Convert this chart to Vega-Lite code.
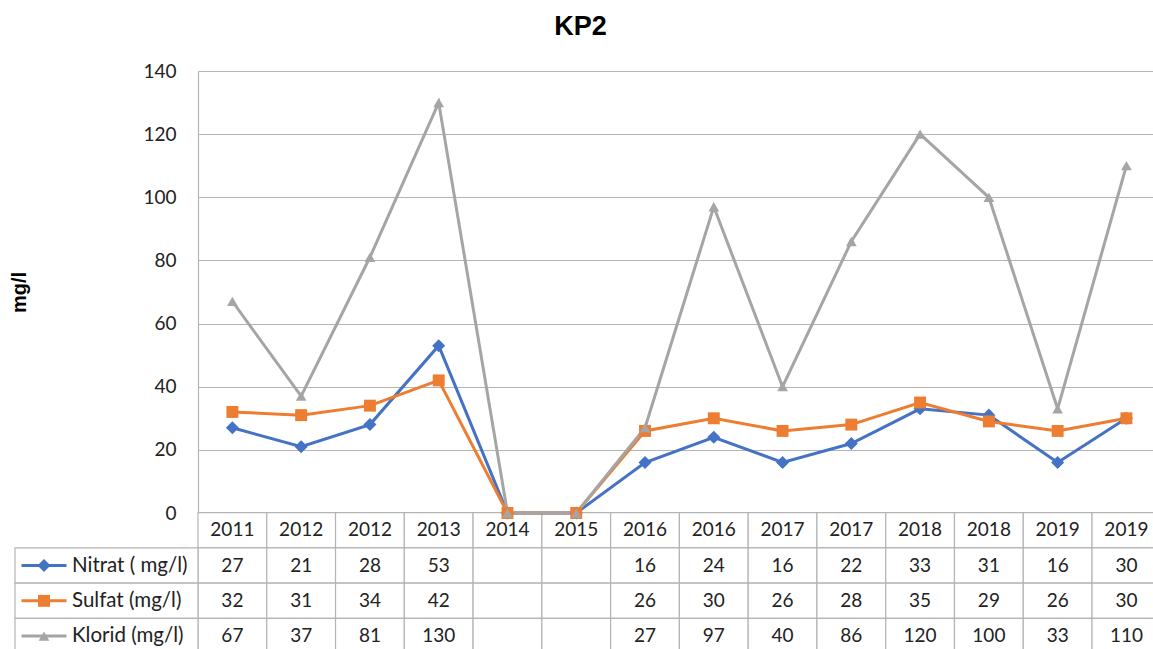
{
  "$schema": "https://vega.github.io/schema/vega-lite/v6.json",
  "width": 955,
  "height": 442,
  "autosize": {"type": "none"},
  "padding": {"left": 198, "top": 71, "right": 0, "bottom": 136},
  "background": "white",
  "config": {"view": {"stroke": null}, "font": "Lato"},
  "title": {"text": "KP2", "font": "Liberation Sans", "fontSize": 27, "fontWeight": "bold", "color": "#000000", "anchor": "middle", "baseline": "alphabetic", "offset": 0, "dx": -95},
  "datasets": {
    "obs": [
      {"i": 0, "series": "Nitrat", "value": 27, "cell": "27"},
      {"i": 1, "series": "Nitrat", "value": 21, "cell": "21"},
      {"i": 2, "series": "Nitrat", "value": 28, "cell": "28"},
      {"i": 3, "series": "Nitrat", "value": 53, "cell": "53"},
      {"i": 4, "series": "Nitrat", "value": 0, "cell": ""},
      {"i": 5, "series": "Nitrat", "value": 0, "cell": ""},
      {"i": 6, "series": "Nitrat", "value": 16, "cell": "16"},
      {"i": 7, "series": "Nitrat", "value": 24, "cell": "24"},
      {"i": 8, "series": "Nitrat", "value": 16, "cell": "16"},
      {"i": 9, "series": "Nitrat", "value": 22, "cell": "22"},
      {"i": 10, "series": "Nitrat", "value": 33, "cell": "33"},
      {"i": 11, "series": "Nitrat", "value": 31, "cell": "31"},
      {"i": 12, "series": "Nitrat", "value": 16, "cell": "16"},
      {"i": 13, "series": "Nitrat", "value": 30, "cell": "30"},
      {"i": 0, "series": "Sulfat", "value": 32, "cell": "32"},
      {"i": 1, "series": "Sulfat", "value": 31, "cell": "31"},
      {"i": 2, "series": "Sulfat", "value": 34, "cell": "34"},
      {"i": 3, "series": "Sulfat", "value": 42, "cell": "42"},
      {"i": 4, "series": "Sulfat", "value": 0, "cell": ""},
      {"i": 5, "series": "Sulfat", "value": 0, "cell": ""},
      {"i": 6, "series": "Sulfat", "value": 26, "cell": "26"},
      {"i": 7, "series": "Sulfat", "value": 30, "cell": "30"},
      {"i": 8, "series": "Sulfat", "value": 26, "cell": "26"},
      {"i": 9, "series": "Sulfat", "value": 28, "cell": "28"},
      {"i": 10, "series": "Sulfat", "value": 35, "cell": "35"},
      {"i": 11, "series": "Sulfat", "value": 29, "cell": "29"},
      {"i": 12, "series": "Sulfat", "value": 26, "cell": "26"},
      {"i": 13, "series": "Sulfat", "value": 30, "cell": "30"},
      {"i": 0, "series": "Klorid", "value": 67, "cell": "67"},
      {"i": 1, "series": "Klorid", "value": 37, "cell": "37"},
      {"i": 2, "series": "Klorid", "value": 81, "cell": "81"},
      {"i": 3, "series": "Klorid", "value": 130, "cell": "130"},
      {"i": 4, "series": "Klorid", "value": 0, "cell": ""},
      {"i": 5, "series": "Klorid", "value": 0, "cell": ""},
      {"i": 6, "series": "Klorid", "value": 27, "cell": "27"},
      {"i": 7, "series": "Klorid", "value": 97, "cell": "97"},
      {"i": 8, "series": "Klorid", "value": 40, "cell": "40"},
      {"i": 9, "series": "Klorid", "value": 86, "cell": "86"},
      {"i": 10, "series": "Klorid", "value": 120, "cell": "120"},
      {"i": 11, "series": "Klorid", "value": 100, "cell": "100"},
      {"i": 12, "series": "Klorid", "value": 33, "cell": "33"},
      {"i": 13, "series": "Klorid", "value": 110, "cell": "110"}
    ],
    "years": [
      {"i": 0, "year": "2011"}, {"i": 1, "year": "2012"}, {"i": 2, "year": "2012"},
      {"i": 3, "year": "2013"}, {"i": 4, "year": "2014"}, {"i": 5, "year": "2015"},
      {"i": 6, "year": "2016"}, {"i": 7, "year": "2016"}, {"i": 8, "year": "2017"},
      {"i": 9, "year": "2017"}, {"i": 10, "year": "2018"}, {"i": 11, "year": "2018"},
      {"i": 12, "year": "2019"}, {"i": 13, "year": "2019"}
    ],
    "legend": [
      {"series": "Nitrat", "label": "Nitrat ( mg/l)"},
      {"series": "Sulfat", "label": "Sulfat (mg/l)"},
      {"series": "Klorid", "label": "Klorid (mg/l)"}
    ]
  },
  "layer": [
    {
      "layer": [
        {
          "data": {"name": "years"},
          "mark": {"type": "rect", "fill": "white", "stroke": "#b4b4b4", "strokeWidth": 1.2},
          "encoding": {
            "x": {"field": "i", "type": "ordinal", "scale": {"type": "band", "domain": [0,1,2,3,4,5,6,7,8,9,10,11,12,13], "range": [0, 962.8], "paddingInner": 0, "paddingOuter": 0}, "axis": null},
            "y": {"datum": "year", "type": "nominal", "scale": {"type": "band", "domain": ["year", "Nitrat", "Sulfat", "Klorid"], "range": [441.7, 582.7], "paddingInner": 0, "paddingOuter": 0}, "axis": null}
          }
        },
        {
          "data": {"name": "years"},
          "mark": {"type": "text", "font": "Lato", "fontSize": 19, "color": "#222222", "baseline": "middle", "align": "center"},
          "encoding": {
            "x": {"field": "i", "type": "ordinal", "bandPosition": 0.5, "scale": {"type": "band", "domain": [0,1,2,3,4,5,6,7,8,9,10,11,12,13], "range": [0, 962.8], "paddingInner": 0, "paddingOuter": 0}, "axis": null},
            "y": {"datum": "year", "type": "nominal", "bandPosition": 0.5, "scale": {"type": "band", "domain": ["year", "Nitrat", "Sulfat", "Klorid"], "range": [441.7, 582.7], "paddingInner": 0, "paddingOuter": 0}, "axis": null},
            "text": {"field": "year"}
          }
        },
        {
          "data": {"name": "obs"},
          "mark": {"type": "rect", "fill": "white", "stroke": "#b4b4b4", "strokeWidth": 1.2},
          "encoding": {
            "x": {"field": "i", "type": "ordinal", "scale": {"type": "band", "domain": [0,1,2,3,4,5,6,7,8,9,10,11,12,13], "range": [0, 962.8], "paddingInner": 0, "paddingOuter": 0}, "axis": null},
            "y": {"field": "series", "type": "nominal", "scale": {"type": "band", "domain": ["year", "Nitrat", "Sulfat", "Klorid"], "range": [441.7, 582.7], "paddingInner": 0, "paddingOuter": 0}, "axis": null}
          }
        },
        {
          "data": {"name": "obs"},
          "mark": {"type": "text", "font": "Lato", "fontSize": 19, "color": "#222222", "baseline": "middle", "align": "center"},
          "encoding": {
            "x": {"field": "i", "type": "ordinal", "bandPosition": 0.5, "scale": {"type": "band", "domain": [0,1,2,3,4,5,6,7,8,9,10,11,12,13], "range": [0, 962.8], "paddingInner": 0, "paddingOuter": 0}, "axis": null},
            "y": {"field": "series", "type": "nominal", "bandPosition": 0.5, "scale": {"type": "band", "domain": ["year", "Nitrat", "Sulfat", "Klorid"], "range": [441.7, 582.7], "paddingInner": 0, "paddingOuter": 0}, "axis": null},
            "text": {"field": "cell"}
          }
        }
      ]
    },
    {
      "layer": [
        {
          "data": {"name": "legend"},
          "mark": {"type": "rect", "fill": "white", "stroke": "#b4b4b4", "strokeWidth": 1.2},
          "encoding": {
            "x": {"datum": "legend", "type": "nominal", "scale": {"type": "band", "domain": ["legend"], "range": [-183, 0], "paddingInner": 0, "paddingOuter": 0}, "axis": null},
            "y": {"field": "series", "type": "nominal", "scale": {"type": "band", "domain": ["year", "Nitrat", "Sulfat", "Klorid"], "range": [441.7, 582.7], "paddingInner": 0, "paddingOuter": 0}, "axis": null}
          }
        },
        {
          "data": {"name": "legend"},
          "mark": {"type": "text", "font": "Lato", "fontSize": 20.5, "color": "#222222", "baseline": "middle", "align": "left", "dx": 57},
          "encoding": {
            "x": {"datum": "legend", "type": "nominal", "bandPosition": 0, "scale": {"type": "band", "domain": ["legend"], "range": [-183, 0], "paddingInner": 0, "paddingOuter": 0}, "axis": null},
            "y": {"field": "series", "type": "nominal", "bandPosition": 0.5, "scale": {"type": "band", "domain": ["year", "Nitrat", "Sulfat", "Klorid"], "range": [441.7, 582.7], "paddingInner": 0, "paddingOuter": 0}, "axis": null},
            "text": {"field": "label"}
          }
        },
        {
          "data": {"name": "legend"},
          "mark": {"type": "point", "shape": "stroke", "size": 2025, "strokeWidth": 3, "filled": false, "opacity": 1},
          "encoding": {
            "x": {"datum": "legend", "type": "nominal", "bandPosition": 0.1585, "scale": {"type": "band", "domain": ["legend"], "range": [-183, 0], "paddingInner": 0, "paddingOuter": 0}, "axis": null},
            "y": {"field": "series", "type": "nominal", "bandPosition": 0.5, "scale": {"type": "band", "domain": ["year", "Nitrat", "Sulfat", "Klorid"], "range": [441.7, 582.7], "paddingInner": 0, "paddingOuter": 0}, "axis": null},
            "color": {"field": "series", "type": "nominal", "scale": {"domain": ["Nitrat", "Sulfat", "Klorid"], "range": ["#4472C4", "#ED7D31", "#A5A5A5"]}, "legend": null}
          }
        },
        {
          "data": {"name": "legend"},
          "mark": {"type": "point", "filled": true, "opacity": 1},
          "encoding": {
            "x": {"datum": "legend", "type": "nominal", "bandPosition": 0.1585, "scale": {"type": "band", "domain": ["legend"], "range": [-183, 0], "paddingInner": 0, "paddingOuter": 0}, "axis": null},
            "y": {"field": "series", "type": "nominal", "bandPosition": 0.5, "scale": {"type": "band", "domain": ["year", "Nitrat", "Sulfat", "Klorid"], "range": [441.7, 582.7], "paddingInner": 0, "paddingOuter": 0}, "axis": null},
            "color": {"field": "series", "type": "nominal", "scale": {"domain": ["Nitrat", "Sulfat", "Klorid"], "range": ["#4472C4", "#ED7D31", "#A5A5A5"]}, "legend": null},
            "shape": {"field": "series", "type": "nominal", "scale": {"domain": ["Nitrat", "Sulfat", "Klorid"], "range": ["diamond", "square", "triangle-up"]}, "legend": null},
            "size": {"field": "series", "type": "ordinal", "scale": {"domain": ["Nitrat", "Sulfat", "Klorid"], "range": [170, 115, 150]}, "legend": null}
          }
        }
      ]
    },
    {
      "layer": [
        {
          "data": {"name": "obs"},
          "mark": {"type": "line", "strokeWidth": 3, "clip": false},
          "encoding": {
            "x": {"field": "i", "type": "ordinal", "bandPosition": 0.5, "scale": {"type": "band", "domain": [0,1,2,3,4,5,6,7,8,9,10,11,12,13], "range": [0, 962.8], "paddingInner": 0, "paddingOuter": 0}, "axis": null},
            "y": {"field": "value", "type": "quantitative", "scale": {"domain": [0, 140], "nice": false}, "axis": {"values": [0, 20, 40, 60, 80, 100, 120, 140], "title": "mg/l", "titleFont": "Liberation Sans", "titleFontSize": 20, "titleFontWeight": "bold", "titleColor": "#000000", "titlePadding": 113, "labelFont": "Lato", "labelFontSize": 19, "labelColor": "#222222", "labelPadding": 22, "ticks": false, "tickSize": 0, "domain": true, "domainColor": "#b4b4b4", "domainWidth": 1.2, "grid": true, "gridColor": "#b4b4b4", "gridWidth": 1.2}},
            "color": {"field": "series", "type": "nominal", "scale": {"domain": ["Nitrat", "Sulfat", "Klorid"], "range": ["#4472C4", "#ED7D31", "#A5A5A5"]}, "legend": null}
          }
        },
        {
          "data": {"name": "obs"},
          "mark": {"type": "point", "filled": true, "opacity": 1, "clip": false},
          "encoding": {
            "x": {"field": "i", "type": "ordinal", "bandPosition": 0.5, "scale": {"type": "band", "domain": [0,1,2,3,4,5,6,7,8,9,10,11,12,13], "range": [0, 962.8], "paddingInner": 0, "paddingOuter": 0}, "axis": null},
            "y": {"field": "value", "type": "quantitative", "scale": {"domain": [0, 140], "nice": false}},
            "color": {"field": "series", "type": "nominal", "scale": {"domain": ["Nitrat", "Sulfat", "Klorid"], "range": ["#4472C4", "#ED7D31", "#A5A5A5"]}, "legend": null},
            "shape": {"field": "series", "type": "nominal", "scale": {"domain": ["Nitrat", "Sulfat", "Klorid"], "range": ["diamond", "square", "triangle-up"]}, "legend": null},
            "size": {"field": "series", "type": "ordinal", "scale": {"domain": ["Nitrat", "Sulfat", "Klorid"], "range": [170, 115, 150]}, "legend": null}
          }
        }
      ]
    }
  ],
  "resolve": {"scale": {"x": "independent", "y": "independent"}}
}
